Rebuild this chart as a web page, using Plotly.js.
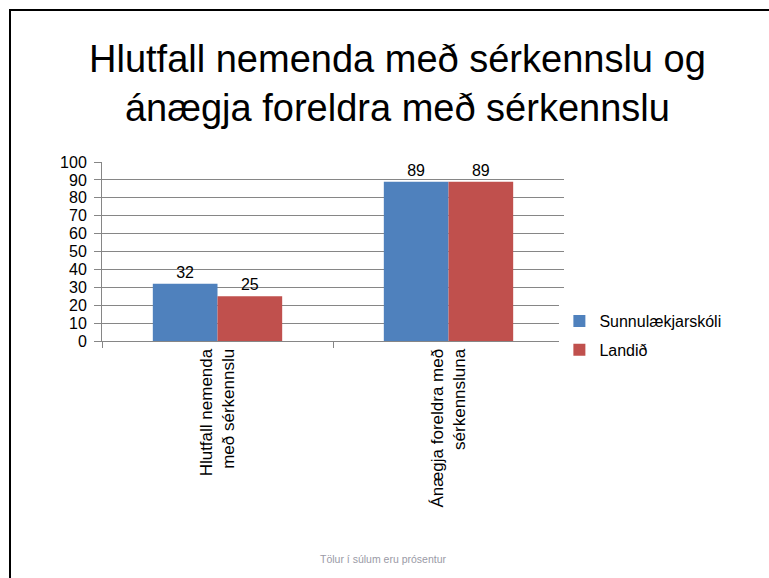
<!DOCTYPE html>
<html>
<head>
<meta charset="utf-8">
<script src="https://cdn.plot.ly/plotly-3.0.1.min.js"></script>
<style>
html,body{margin:0;padding:0;background:#fff;}
#wrap{position:relative;width:769px;height:578px;overflow:hidden;}
#frame{position:absolute;left:9px;top:9px;width:800px;height:600px;border-top:2px solid #000;border-left:2px solid #000;pointer-events:none;z-index:5;}
#chart{position:absolute;left:0;top:0;width:769px;height:578px;}
</style>
</head>
<body>
<div id="wrap"><div id="chart"></div><div id="frame"></div></div>
<script>
const categories = ["Hlutfall nemenda<br>með sérkennslu", "Ánægja foreldra með<br>sérkennsluna"];
const seriesNames = ["Sunnulækjarskóli", "Landið"];
const sunnuValues = [32, 89];
const landidValues = [25, 89];
const yTicks = [0,10,20,30,40,50,60,70,80,90,100];
const titleText = "Hlutfall nemenda með sérkennslu og<br>ánægja foreldra með sérkennslu";
const footnote = "Tölur í súlum eru prósentur";

const font = "Liberation Sans, Arial, sans-serif";
const traces = [
  {type:'bar', name:seriesNames[0], legendgroup:'a', x:categories, y:sunnuValues, marker:{color:'#4F81BD'},
   text:sunnuValues.map(String), textposition:'outside', cliponaxis:false,
   textfont:{size:16,color:'#000',family:font}},
  {type:'bar', name:seriesNames[1], legendgroup:'b', x:categories, y:landidValues, marker:{color:'#C0504D'},
   text:landidValues.map(String), textposition:'outside', cliponaxis:false,
   textfont:{size:16,color:'#000',family:font}}
];
const layout = {
  width:769, height:578,
  margin:{l:102, r:205, t:162, b:237, pad:0},
  paper_bgcolor:'#fff', plot_bgcolor:'#fff',
  font:{family:font, color:'#000'},
  barmode:'group', bargap:0.44, bargroupgap:0,
  showlegend:true,
  legend:{x:0.99, xanchor:'left', y:0.03, yanchor:'middle', font:{size:16, family:font}, itemwidth:30, tracegroupgap:5},
  xaxis:{type:'category', showline:true, linecolor:'#868686', linewidth:1, ticks:'outside', tickson:'boundaries', ticklen:6, tickcolor:'#868686',
         tickangle:-90, tickfont:{size:17, family:font}, showgrid:false, zeroline:false},
  yaxis:{range:[0,100], tickvals:yTicks, ticktext:yTicks.map(String), showline:true, linecolor:'#868686', linewidth:1,
         ticks:'outside', ticklen:7, tickcolor:'#868686', showgrid:true, gridcolor:'#868686', gridwidth:1,
         tickfont:{size:16, family:font}, zeroline:false, ticklabelstandoff:4},
  annotations:[
    {text:titleText, xref:'paper', yref:'paper', x:0.64, y:1.44, xanchor:'center', yanchor:'middle', showarrow:false,
     font:{size:38, color:'#000', family:font}},
    {text:footnote, xref:'paper', yref:'paper', x:0.61, y:-1.22, xanchor:'center', yanchor:'middle', showarrow:false,
     font:{size:10.5, color:'#9a9aa6', family:font}}]
};
Plotly.newPlot('chart', traces, layout, {displayModeBar:false, staticPlot:true});
</script>
</body>
</html>
